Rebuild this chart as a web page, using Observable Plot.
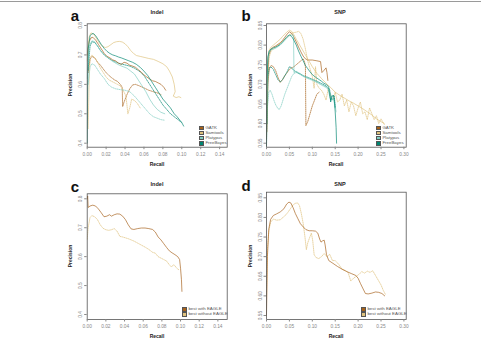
<!DOCTYPE html>
<html><head><meta charset="utf-8">
<script src="https://cdn.jsdelivr.net/npm/d3@7"></script>
<script src="https://cdn.jsdelivr.net/npm/@observablehq/plot@0.6"></script>
<style>
html,body{margin:0;padding:0;background:#fff;}
#root{position:relative;width:481px;height:338px;overflow:hidden;background:#fff;font-family:"Liberation Sans",Arial,sans-serif;}
.abs{position:absolute;white-space:nowrap;}
.c{transform:translate(-50%,-50%);}
.letter{font-weight:bold;font-size:15px;color:#111;}
.title{font-weight:bold;font-size:5.5px;color:#222;}
.lab{font-weight:bold;font-size:5px;color:#222;}
.rot{transform:translate(-50%,-50%) rotate(-90deg);}
.leg{font-size:4.4px;color:#555;line-height:4.7px;}
.leg .sw{display:inline-block;width:2.6px;height:2.6px;border:0.5px solid #555;margin-right:1.8px;vertical-align:middle;}
.panel{position:absolute;}
</style></head>
<body><div id="root"></div>
<script>
// ---- categories / styling keys ----
const tools = ["GATK","Samtools","Platypus","FreeBayes"];
const toolColors = ["#a6611a","#dfc27d","#80cdc1","#018571"];
const bestLabels = ["best with EAGLE","best without EAGLE"];
const bestColors = ["#a6611a","#dfc27d"];

// ---- tick labels ----
const indelXTicks = [0,0.02,0.04,0.06,0.08,0.10,0.12,0.14];
const indelYTicks = [0.4,0.5,0.6,0.7,0.8];
const snpXTicks = [0,0.05,0.10,0.15,0.20,0.25,0.30];
const snpYTicks = [0.55,0.60,0.65,0.70,0.75,0.80,0.85];

// ---- panel a: Indel, [recall, precision] ----
const indelGatkWith = [[0,0.70],[0.002,0.745],[0.004,0.758],[0.006,0.76],[0.009,0.75],[0.012,0.735],[0.015,0.72],[0.018,0.705],[0.021,0.695],[0.024,0.69],[0.027,0.683],[0.03,0.68],[0.033,0.672],[0.036,0.668],[0.039,0.675],[0.042,0.672],[0.045,0.665],[0.048,0.662],[0.051,0.658],[0.054,0.65],[0.057,0.642],[0.06,0.632],[0.063,0.625],[0.066,0.618],[0.069,0.612],[0.072,0.61],[0.075,0.605],[0.078,0.6],[0.081,0.59],[0.083,0.58]];
const indelGatkWithout = [[0.001,0.64],[0.003,0.685],[0.005,0.695],[0.008,0.69],[0.011,0.675],[0.014,0.665],[0.017,0.652],[0.02,0.64],[0.023,0.63],[0.026,0.622],[0.029,0.615],[0.032,0.61],[0.035,0.6],[0.037,0.59],[0.0375,0.525],[0.039,0.54],[0.042,0.565],[0.045,0.585],[0.048,0.598],[0.051,0.6],[0.055,0.595],[0.06,0.588],[0.065,0.58],[0.07,0.575],[0.075,0.57],[0.078,0.565]];
const indelSamWith = [[0,0.68],[0.002,0.76],[0.004,0.775],[0.007,0.77],[0.01,0.755],[0.013,0.74],[0.016,0.73],[0.019,0.725],[0.022,0.728],[0.025,0.735],[0.028,0.742],[0.031,0.745],[0.034,0.746],[0.037,0.744],[0.04,0.738],[0.043,0.728],[0.046,0.715],[0.049,0.705],[0.052,0.698],[0.056,0.695],[0.06,0.692],[0.065,0.688],[0.07,0.685],[0.075,0.678],[0.08,0.67],[0.084,0.66],[0.087,0.645],[0.09,0.625],[0.092,0.6],[0.093,0.575],[0.091,0.56],[0.094,0.555],[0.097,0.558],[0.099,0.555]];
const indelSamWithout = [[0.001,0.45],[0.002,0.6],[0.003,0.69],[0.005,0.7],[0.008,0.69],[0.011,0.675],[0.014,0.655],[0.017,0.64],[0.02,0.625],[0.023,0.615],[0.026,0.61],[0.029,0.605],[0.032,0.6],[0.035,0.595],[0.038,0.58],[0.041,0.56],[0.043,0.5],[0.045,0.52],[0.047,0.55],[0.05,0.545],[0.053,0.535],[0.056,0.52]];
const indelPlatWith = [[0,0.62],[0.002,0.73],[0.005,0.748],[0.008,0.745],[0.011,0.73],[0.014,0.715],[0.018,0.7],[0.022,0.69],[0.026,0.68],[0.03,0.672],[0.034,0.665],[0.038,0.66],[0.042,0.655],[0.046,0.645],[0.05,0.635],[0.054,0.615],[0.058,0.595],[0.062,0.575],[0.066,0.55],[0.07,0.53],[0.074,0.515],[0.078,0.505],[0.082,0.5]];
const indelPlatWithout = [[0.001,0.6],[0.003,0.66],[0.005,0.67],[0.008,0.665],[0.011,0.65],[0.014,0.635],[0.018,0.62],[0.022,0.6],[0.026,0.59],[0.03,0.585],[0.035,0.582],[0.04,0.58],[0.045,0.575],[0.05,0.56],[0.054,0.545],[0.058,0.53],[0.062,0.515],[0.066,0.5],[0.07,0.49],[0.074,0.485],[0.078,0.48],[0.082,0.478]];
const indelFbWith = [[0,0.4],[0.0005,0.6],[0.001,0.72],[0.003,0.765],[0.005,0.772],[0.007,0.772],[0.009,0.765],[0.012,0.75],[0.015,0.735],[0.018,0.722],[0.021,0.712],[0.024,0.705],[0.027,0.7],[0.03,0.697],[0.033,0.693],[0.036,0.69],[0.04,0.685],[0.044,0.68],[0.048,0.675],[0.052,0.668],[0.056,0.658],[0.06,0.645],[0.064,0.63],[0.068,0.61],[0.072,0.59],[0.076,0.57],[0.08,0.55],[0.084,0.535],[0.088,0.52],[0.092,0.5],[0.095,0.49],[0.098,0.478],[0.1,0.47],[0.102,0.458]];
const indelFbWithout = [[0.001,0.65],[0.003,0.73],[0.005,0.745],[0.008,0.742],[0.011,0.73],[0.014,0.715],[0.018,0.7],[0.022,0.69],[0.026,0.682],[0.03,0.676],[0.035,0.67],[0.04,0.666],[0.045,0.662],[0.05,0.655],[0.055,0.645],[0.06,0.63],[0.064,0.61],[0.068,0.59],[0.072,0.57],[0.076,0.55],[0.08,0.53],[0.084,0.515],[0.088,0.5],[0.092,0.49],[0.096,0.48],[0.1,0.47]];

// ---- panel b: SNP ----
const snpGatkWith = [[0,0.56],[0.002,0.72],[0.005,0.775],[0.01,0.79],[0.015,0.795],[0.02,0.798],[0.025,0.802],[0.03,0.806],[0.035,0.812],[0.04,0.82],[0.045,0.828],[0.05,0.834],[0.055,0.83],[0.06,0.82],[0.065,0.808],[0.07,0.795],[0.075,0.783],[0.08,0.772],[0.085,0.765],[0.09,0.762],[0.1,0.762],[0.11,0.76],[0.118,0.758],[0.121,0.73],[0.125,0.735],[0.13,0.742],[0.132,0.73],[0.134,0.71]];
const snpGatkWithout = [[0.001,0.58],[0.003,0.7],[0.006,0.74],[0.01,0.748],[0.015,0.745],[0.02,0.735],[0.025,0.718],[0.03,0.705],[0.035,0.712],[0.04,0.722],[0.045,0.73],[0.05,0.738],[0.055,0.742],[0.06,0.745],[0.065,0.75],[0.07,0.755],[0.075,0.76],[0.08,0.765],[0.083,0.758],[0.085,0.745],[0.086,0.595],[0.09,0.605],[0.095,0.625],[0.1,0.645],[0.105,0.66],[0.11,0.675],[0.115,0.68]];
const snpSamWith = [[0,0.6],[0.002,0.75],[0.005,0.785],[0.01,0.795],[0.015,0.8],[0.02,0.805],[0.025,0.81],[0.03,0.815],[0.035,0.822],[0.04,0.828],[0.045,0.834],[0.05,0.838],[0.055,0.835],[0.06,0.826],[0.065,0.815],[0.07,0.805],[0.075,0.795],[0.08,0.785],[0.085,0.775],[0.09,0.765],[0.095,0.755],[0.1,0.745],[0.11,0.728],[0.12,0.715],[0.13,0.703],[0.14,0.692],[0.15,0.68],[0.16,0.672],[0.17,0.665],[0.18,0.658],[0.19,0.652],[0.2,0.645],[0.21,0.638],[0.22,0.63],[0.23,0.622],[0.24,0.612],[0.25,0.605],[0.257,0.6]];
const snpSamWithout = [[0.001,0.6],[0.003,0.72],[0.006,0.77],[0.01,0.785],[0.015,0.79],[0.02,0.795],[0.025,0.8],[0.03,0.805],[0.035,0.81],[0.04,0.815],[0.045,0.82],[0.05,0.825],[0.055,0.83],[0.06,0.832],[0.065,0.833],[0.07,0.835],[0.075,0.83],[0.08,0.815],[0.085,0.79],[0.09,0.76],[0.095,0.74],[0.1,0.72],[0.104,0.69],[0.107,0.745],[0.11,0.7],[0.115,0.69],[0.12,0.685],[0.125,0.675],[0.13,0.66],[0.135,0.69],[0.14,0.672],[0.145,0.66],[0.15,0.68],[0.155,0.655],[0.16,0.66],[0.165,0.675],[0.17,0.645],[0.175,0.66],[0.18,0.63],[0.185,0.655],[0.19,0.645],[0.195,0.62],[0.2,0.64],[0.205,0.655],[0.21,0.625],[0.215,0.63],[0.22,0.61],[0.225,0.64],[0.23,0.625],[0.235,0.61],[0.24,0.62],[0.245,0.6],[0.25,0.612],[0.257,0.598]];
const snpPlatWith = [[0,0.6],[0.002,0.75],[0.005,0.78],[0.01,0.788],[0.015,0.79],[0.02,0.792],[0.025,0.796],[0.03,0.8],[0.035,0.806],[0.04,0.812],[0.045,0.818],[0.05,0.824],[0.055,0.826],[0.059,0.825],[0.06,0.73],[0.065,0.733],[0.07,0.73],[0.075,0.726],[0.08,0.722],[0.09,0.716],[0.1,0.712],[0.11,0.706],[0.12,0.7],[0.13,0.694],[0.135,0.688],[0.14,0.675],[0.143,0.66],[0.146,0.665],[0.15,0.64]];
const snpPlatWithout = [[0,0.54],[0.002,0.64],[0.005,0.68],[0.008,0.685],[0.012,0.675],[0.016,0.66],[0.02,0.648],[0.025,0.638],[0.028,0.636],[0.032,0.645],[0.036,0.66],[0.04,0.675],[0.045,0.69],[0.05,0.705],[0.055,0.72],[0.06,0.728],[0.065,0.73],[0.07,0.728],[0.08,0.72],[0.09,0.715],[0.1,0.71],[0.11,0.705],[0.12,0.698],[0.13,0.692],[0.135,0.686],[0.14,0.672],[0.144,0.66],[0.148,0.664],[0.152,0.63]];
const snpFbWith = [[0,0.54],[0.001,0.7],[0.003,0.77],[0.006,0.785],[0.01,0.79],[0.015,0.793],[0.02,0.795],[0.025,0.798],[0.03,0.802],[0.035,0.808],[0.04,0.815],[0.045,0.822],[0.05,0.826],[0.055,0.822],[0.06,0.812],[0.065,0.8],[0.07,0.785],[0.075,0.772],[0.08,0.76],[0.085,0.748],[0.09,0.74],[0.095,0.732],[0.1,0.725],[0.105,0.72],[0.11,0.716],[0.115,0.712],[0.12,0.708],[0.125,0.703],[0.13,0.7],[0.135,0.695],[0.138,0.685],[0.14,0.655],[0.143,0.668],[0.146,0.672],[0.148,0.66],[0.15,0.63],[0.152,0.59],[0.153,0.55]];
const snpFbWithout = [[0.001,0.6],[0.003,0.72],[0.006,0.742],[0.01,0.744],[0.015,0.738],[0.02,0.725],[0.025,0.712],[0.03,0.706],[0.035,0.712],[0.04,0.722],[0.045,0.732],[0.05,0.745],[0.055,0.742],[0.06,0.735],[0.065,0.732],[0.07,0.728],[0.075,0.726],[0.08,0.722],[0.085,0.72],[0.09,0.718],[0.1,0.713],[0.11,0.708],[0.12,0.702],[0.13,0.696],[0.135,0.69],[0.138,0.67],[0.14,0.66],[0.142,0.67],[0.145,0.672],[0.148,0.67],[0.15,0.64]];

// ---- panel c: Indel best ----
const indelBestWith = [[0,0.8],[0.0005,0.81],[0.001,0.77],[0.003,0.775],[0.006,0.778],[0.009,0.775],[0.012,0.765],[0.015,0.752],[0.018,0.738],[0.021,0.74],[0.024,0.745],[0.026,0.74],[0.029,0.745],[0.032,0.748],[0.035,0.747],[0.038,0.74],[0.041,0.728],[0.044,0.71],[0.047,0.696],[0.05,0.694],[0.054,0.697],[0.058,0.699],[0.062,0.699],[0.066,0.697],[0.07,0.694],[0.073,0.685],[0.076,0.668],[0.079,0.658],[0.082,0.645],[0.085,0.632],[0.088,0.62],[0.091,0.613],[0.094,0.607],[0.097,0.6],[0.099,0.59],[0.1,0.56],[0.101,0.52],[0.1015,0.48]];
const indelBestWithout = [[0,0.66],[0.001,0.7],[0.003,0.735],[0.005,0.742],[0.008,0.738],[0.011,0.728],[0.014,0.71],[0.017,0.698],[0.02,0.693],[0.023,0.691],[0.026,0.693],[0.029,0.697],[0.032,0.688],[0.035,0.67],[0.038,0.668],[0.041,0.665],[0.044,0.662],[0.047,0.658],[0.05,0.654],[0.054,0.647],[0.058,0.64],[0.062,0.633],[0.066,0.625],[0.07,0.615],[0.073,0.612],[0.076,0.6],[0.079,0.595],[0.082,0.59],[0.085,0.585],[0.088,0.572],[0.09,0.565],[0.093,0.572],[0.096,0.56],[0.098,0.555]];

// ---- panel d: SNP best ----
const snpBestWith = [[0,0.55],[0.002,0.7],[0.005,0.77],[0.009,0.795],[0.015,0.805],[0.022,0.809],[0.03,0.814],[0.038,0.822],[0.044,0.834],[0.049,0.839],[0.053,0.837],[0.058,0.825],[0.063,0.81],[0.068,0.798],[0.074,0.784],[0.08,0.776],[0.086,0.769],[0.093,0.766],[0.1,0.766],[0.107,0.765],[0.112,0.76],[0.116,0.745],[0.119,0.737],[0.122,0.74],[0.126,0.742],[0.128,0.73],[0.131,0.705],[0.136,0.69],[0.145,0.683],[0.155,0.675],[0.165,0.668],[0.175,0.662],[0.185,0.657],[0.195,0.652],[0.2,0.645],[0.205,0.632],[0.21,0.62],[0.216,0.606],[0.222,0.605],[0.23,0.607],[0.238,0.61],[0.245,0.609],[0.252,0.606],[0.258,0.6]];
const snpBestWithout = [[0,0.6],[0.002,0.72],[0.005,0.765],[0.009,0.788],[0.015,0.796],[0.022,0.793],[0.03,0.794],[0.038,0.802],[0.045,0.81],[0.052,0.822],[0.058,0.832],[0.063,0.836],[0.068,0.837],[0.072,0.83],[0.076,0.81],[0.08,0.785],[0.084,0.75],[0.087,0.718],[0.09,0.735],[0.094,0.748],[0.098,0.76],[0.101,0.74],[0.104,0.705],[0.108,0.698],[0.114,0.695],[0.12,0.7],[0.126,0.708],[0.132,0.7],[0.138,0.706],[0.144,0.69],[0.15,0.69],[0.158,0.68],[0.165,0.668],[0.172,0.665],[0.178,0.66],[0.184,0.638],[0.19,0.645],[0.196,0.65],[0.202,0.655],[0.208,0.662],[0.214,0.658],[0.22,0.663],[0.226,0.66],[0.232,0.664],[0.238,0.652],[0.244,0.64],[0.25,0.628],[0.255,0.614],[0.26,0.603]];

// ---- build tables ----
const rows = (pairs, series) => pairs.map(([r,p]) => ({r, p, series}));
const panelA = {
  with: [indelGatkWith, indelSamWith, indelPlatWith, indelFbWith].flatMap((a,i)=>rows(a,tools[i])),
  without: [indelGatkWithout, indelSamWithout, indelPlatWithout, indelFbWithout].flatMap((a,i)=>rows(a,tools[i]))
};
const panelB = {
  with: [snpGatkWith, snpSamWith, snpPlatWith, snpFbWith].flatMap((a,i)=>rows(a,tools[i])),
  without: [snpGatkWithout, snpSamWithout, snpPlatWithout, snpFbWithout].flatMap((a,i)=>rows(a,tools[i]))
};
const panelC = {with: rows(indelBestWith, bestLabels[0]), without: rows(indelBestWithout, bestLabels[1])};
const panelD = {with: rows(snpBestWith, bestLabels[0]), without: rows(snpBestWithout, bestLabels[1])};

const root = document.getElementById("root");

function makePanel(cfg){
  const {data, left, top, width, height, mL, mR, mT, mB, xDomain, yDomain, xTicks, yTicks, xFmt, yFmt, cDomain, cRange} = cfg;
  const chart = Plot.plot({
    width, height, marginLeft: mL, marginRight: mR, marginTop: mT, marginBottom: mB,
    style: {fontFamily: '"Liberation Sans", Arial, sans-serif', fontSize: "5px", background: "transparent", overflow: "visible"},
    x: {domain: xDomain},
    y: {domain: yDomain},
    color: {domain: cDomain, range: cRange},
    marks: [
      Plot.line(data.without, {x: "r", y: "p", z: "series", stroke: "series", strokeWidth: 0.7, strokeDasharray: "0.9,1.1", clip: true}),
      Plot.line(data.with, {x: "r", y: "p", z: "series", stroke: "series", strokeWidth: 0.75, strokeOpacity: 0.9, clip: true}),
      Plot.frame({stroke: "#555", strokeWidth: 0.8}),
      Plot.axisX({ticks: xTicks, tickFormat: d3.format(xFmt), tickSize: 2.5, tickPadding: 2.5, fontSize: 4.8, label: null, color: "#888"}),
      Plot.axisY({ticks: yTicks, tickFormat: d3.format(yFmt), tickSize: 2.5, tickPadding: 2.5, tickRotate: -90, fontSize: 4.8, label: null, color: "#888"})
    ]
  });
  chart.classList.add("panel");
  chart.style.left = left + "px";
  chart.style.top = top + "px";
  root.appendChild(chart);
}

makePanel({data: panelA, left: 60, top: 0, width: 180, height: 168, mL: 26.7, mR: 13.3, mT: 23.3, mB: 21.3,
  xDomain: [0, 0.148], yDomain: [0.3864, 0.8058], xTicks: indelXTicks, yTicks: indelYTicks, xFmt: ".2f", yFmt: ".1f", cDomain: tools, cRange: toolColors});
makePanel({data: panelB, left: 240, top: 0, width: 180, height: 168, mL: 26, mR: 14.3, mT: 23.3, mB: 21.3,
  xDomain: [0, 0.305], yDomain: [0.5398, 0.8543], xTicks: snpXTicks, yTicks: snpYTicks, xFmt: ".2f", yFmt: ".2f", cDomain: tools, cRange: toolColors});
makePanel({data: panelC, left: 60, top: 168, width: 180, height: 170, mL: 26.7, mR: 13.3, mT: 25.3, mB: 19,
  xDomain: [0, 0.15], yDomain: [0.3827, 0.8173], xTicks: indelXTicks, yTicks: indelYTicks, xFmt: ".2f", yFmt: ".1f", cDomain: bestLabels, cRange: bestColors});
makePanel({data: panelD, left: 240, top: 168, width: 180, height: 170, mL: 26, mR: 14.3, mT: 23.7, mB: 19,
  xDomain: [0, 0.305], yDomain: [0.5398, 0.8643], xTicks: snpXTicks, yTicks: snpYTicks, xFmt: ".2f", yFmt: ".2f", cDomain: bestLabels, cRange: bestColors});

// ---- text overlays ----
function addText(txt, cls, x, y){
  const d = document.createElement("div");
  d.className = "abs " + cls;
  d.style.left = x + "px"; d.style.top = y + "px";
  d.textContent = txt;
  root.appendChild(d);
}
const rule = document.createElement("div");
rule.className = "abs"; rule.style.cssText += "left:0;top:1px;width:481px;height:1px;background:#9a9a9a;";
root.appendChild(rule);

const letters = [["a",75,15],["b",246,15],["c",75,186],["d",246,185]];
letters.forEach(([t,x,y]) => addText(t, "letter c", x, y));
const titles = [["Indel",157,12],["SNP",340,12],["Indel",157,184],["SNP",340,184]];
titles.forEach(([t,x,y]) => addText(t, "title c", x, y));
[[157,164],[336,164],[157,336],[336,336]].forEach(([x,y]) => addText("Recall", "lab c", x, y));
[[70,85],[250,85],[70,256],[250,256]].forEach(([x,y]) => addText("Precision", "lab rot", x, y));

function addLegend(labels, colors, x, y){
  const box = document.createElement("div");
  box.className = "abs leg";
  box.style.left = x + "px"; box.style.top = y + "px";
  labels.forEach((l,i) => {
    const row = document.createElement("div");
    const sw = document.createElement("span");
    sw.className = "sw"; sw.style.background = colors[i];
    row.appendChild(sw);
    row.appendChild(document.createTextNode(l));
    box.appendChild(row);
  });
  root.appendChild(box);
}
addLegend(tools, toolColors, 199, 125.5);
addLegend(tools, toolColors, 376, 125.5);
addLegend(bestLabels, bestColors, 182, 307);
addLegend(bestLabels, bestColors, 361, 307);
</script></body></html>
